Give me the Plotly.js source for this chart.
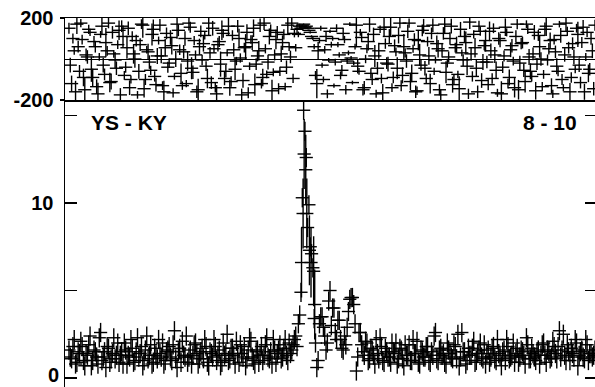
<!DOCTYPE html>
<html>
<head>
<meta charset="utf-8">
<script src="https://cdn.plot.ly/plotly-3.0.1.min.js"></script>
<style>html,body{margin:0;padding:0;background:#fff;}#chart{width:595px;height:387px;}</style>
</head>
<body>
<div id="chart"></div>
<script>
// Fringe amplitude vs lag (bottom) and fringe phase (top), baseline YS - KY, channels 8 - 10
const baselineLabel = "YS - KY";
const channelLabel = "8 - 10";

// series A: lags 0,1,2,...
const amplitudeA = [
  1.6, 1.1, 2.2, 0.9, 1.4, 1.8, 0.7, 1.3, 2.4, 1.0, 1.5, 0.8, 2.6, 1.2, 0.6, 1.7, 1.1, 2.3, 1.3, 0.9,
  1.5, 2.0, 0.8, 1.2, 1.7, 1.0, 2.3, 1.4, 0.7, 1.6, 1.1, 1.9, 0.9, 1.3, 2.2, 1.2, 0.8, 1.5, 1.8, 1.0,
  2.7, 0.6, 1.7, 2.1, 1.2, 0.9, 1.6, 1.3, 2.0, 0.8, 1.5, 1.1, 1.8, 0.7, 1.4, 2.2, 1.0, 1.6, 0.9, 1.3,
  2.5, 1.1, 1.7, 0.8, 1.4, 1.9, 1.2, 0.7, 1.6, 2.1, 1.0, 1.5, 0.9, 1.8, 1.3, 2.3, 1.1, 0.8, 1.6, 1.4,
  1.9, 1.2, 2.2, 1.0, 1.4, 1.9, 2.4, 3.1, 4.9, 15.3, 12.6, 9.9, 7.1, 3.4, 0.6, 3.1, 3.5, 2.4, 2.0, 5.0,
  4.0, 2.6, 3.3, 2.2, 1.6, 1.9, 3.8, 4.6, 4.2, 0.4, 2.6, 1.9, 1.3, 2.0, 1.1, 1.6, 0.8, 1.4, 2.3, 1.0,
  1.7, 1.2, 0.9, 1.5, 2.0, 1.1, 1.6, 0.7, 1.3, 1.9, 1.0, 1.4, 2.1, 0.8, 1.5, 1.2, 1.8, 0.9, 1.3, 2.6,
  1.0, 1.7, 1.4, 0.8, 1.6, 1.2, 1.9, 1.1, 0.7, 2.6, 1.5, 1.0, 1.3, 1.7, 0.9, 1.4, 2.0, 1.1, 0.8, 1.6,
  1.2, 1.8, 1.0, 1.4, 0.7, 1.6, 2.2, 1.1, 1.3, 0.9, 1.7, 1.2, 1.5, 0.8, 1.9, 1.1, 1.4, 1.0, 1.6, 1.3,
  2.0, 0.9, 1.5, 1.2, 1.8, 1.1, 2.7, 1.6, 1.3, 1.9, 1.0, 1.4, 2.2, 0.7, 1.5, 1.2, 2.2, 1.0, 1.4, 1.3
];
const phaseA = [
  150, -120, 40, 170, -60, 95, -150, 10, 130, -90, 60, -170, 120, -30, 80, 175, -110, 25, -45, 140,
  160, -80, 55, -140, 110, 0, -175, 70, 165, -100, 35, -55, 145, -125, 90, 15, -160, 125, -20, 65,
  -85, 170, 45, -130, 100, -10, 155, -65, 20, -150, 135, 75, -35, 175, -115, 50, -170, 85, 140, -95,
  30, -140, 115, -50, 160, 5, -105, 60, -165, 95, 150, -25, 40, -120, 175, -75, 110, -155, 20, 130,
  -60, 80, -135, 165, 10, -95, 55, 120, 150, 170, 160, 140, 110, 60, -120, 90, -30, 45, -170, 135,
  100, -15, 70, -80, 125, -150, 30, 5, -20, 165, -60, 105, -140, 50, 170, -100, 15, -45, 145, -165,
  75, -25, 155, -90, 35, 115, -130, 60, -10, 175, -70, 95, -155, 20, 140, -45, 85, -120, 165, -5,
  50, -175, 125, -65, 10, 160, -100, 70, -145, 30, 110, -35, 180, -85, 55, -160, 135, -15, 90, -125,
  40, 150, -55, 100, -170, 15, 130, -90, 65, -140, 170, -20, 80, -110, 145, -60, 25, -155, 115, 0,
  -75, 160, 50, -130, 95, -35, 170, -100, 20, 135, -160, 75, -50, 120, -115, 155, 10, -70, 100, -145
];

// series B: lags 0.5,1.5,2.5,...
const amplitudeB = [
  1.2, 1.8, 0.8, 1.5, 2.1, 1.0, 1.4, 1.9, 0.7, 1.6, 1.2, 2.3, 1.0, 1.5, 1.8, 0.9, 1.4, 1.1, 2.0, 1.3,
  0.8, 1.6, 1.3, 2.2, 0.9, 1.5, 1.2, 1.8, 1.0, 2.4, 1.3, 0.8, 1.7, 1.1, 1.4, 2.0, 1.0, 1.6, 1.2, 1.9,
  1.1, 1.5, 0.9, 1.3, 2.4, 1.2, 0.8, 1.9, 1.4, 1.1, 1.7, 2.2, 0.9, 1.5, 1.2, 1.8, 1.3, 0.7, 2.0, 1.4,
  1.0, 1.7, 1.3, 2.1, 0.9, 1.4, 1.8, 1.1, 2.3, 1.2, 0.8, 1.6, 1.3, 1.0, 1.9, 1.2, 1.5, 2.2, 0.9, 1.6,
  1.1, 1.7, 1.3, 2.0, 1.6, 2.2, 1.8, 3.6, 10.3, 14.1, 8.6, 7.5, 6.3, 2.0, 1.0, 3.5, 2.9, 1.6, 4.4, 3.0,
  4.0, 2.2, 3.3, 1.7, 2.4, 2.9, 4.5, 4.6, 3.1, 1.2, 2.6, 1.5, 2.1, 1.0, 1.7, 1.3, 2.2, 1.1, 1.8, 0.9,
  1.5, 1.2, 2.0, 1.4, 0.8, 1.7, 1.1, 1.9, 1.3, 1.0, 2.2, 1.4, 0.9, 1.6, 1.2, 1.8, 1.0, 1.5, 2.4, 1.1,
  1.6, 1.3, 0.9, 2.0, 1.4, 1.1, 1.8, 2.5, 1.2, 1.5, 0.8, 1.7, 1.3, 2.1, 1.0, 1.6, 1.2, 1.9, 1.4, 0.9,
  1.7, 1.1, 2.2, 1.3, 1.5, 1.0, 1.8, 1.2, 2.0, 1.4, 0.9, 1.6, 1.3, 2.3, 1.1, 1.7, 1.2, 1.5, 0.8, 1.9,
  1.3, 1.6, 1.1, 2.1, 1.4, 1.8, 1.2, 2.5, 1.0, 1.5, 1.7, 1.2, 2.0, 1.3, 1.6, 1.1, 1.9, 1.4, 1.2, 1.6
];
const phaseB = [
  -30, 100, -160, 60, 175, -90, 20, 145, -50, 85, -135, 10, 160, -75, 40, -115, 130, -5, 70, -175,
  110, -40, 150, -100, 25, 90, -60, 170, -145, 45, -15, 120, -85, 15, 165, -130, 55, -40, 105, -165,
  0, 140, -70, 35, -120, 175, -45, 90, -160, 60, -5, 115, -95, 30, 150, -140, 70, -25, 125, -60,
  160, -110, 45, -10, 100, -175, 55, 130, -35, 80, -125, 15, 165, -90, 50, -15, 140, -65, 95, -145,
  25, 120, -40, 60, 175, 125, 145, 160, 165, 155, 150, 130, 100, -80, 40, 150, -100, 110, -5, 70,
  -130, 150, 20, -55, 95, -10, 170, -115, 60, -35, 130, -150, 0, 85, -70, 120, -170, 40, -95, 155,
  -20, 110, -140, 65, -45, 175, -80, 30, 135, -110, 50, -160, 90, -30, 160, -95, 15, 125, -60, 75,
  -150, 40, 170, -20, 100, -125, 55, -75, 145, -5, 80, -170, 25, 120, -45, 160, -105, 65, -15, 135,
  -95, 20, -165, 90, -40, 155, -120, 45, -10, 110, -150, 75, -55, 170, 10, -85, 130, -25, 60, -135,
  145, -5, 90, -170, 35, -60, 115, -140, 175, 55, -90, 10, 150, -30, 80, -160, 130, -50, 40, 165
];

// extra finely sampled points across the fringe peak
const peakLag = [88.2, 88.8, 89.2, 89.8, 90.2, 91.2, 91.8, 92.8, 93.2];
const peakAmp = [6.6, 9.4, 12.8, 11.9, 9.4, 7.3, 6.6, 6.1, 4.2];

// amplitude axis ticks
const ampTicks = [0, 5, 10, 15];
const ampTickText = ["", "", "10", ""];
const zeroLabel = "0";
const phaseTicks = [-200, 200];
const phaseTickText = ["-200", "200"];

const lagA = amplitudeA.map((_, i) => i);
const lagB = amplitudeB.map((_, i) => i + 0.5);
const AMP_ERR = 0.55;
const PEAK_ERR = 2.0;
const LAG_ERR = 2.5;
// phase error (deg) derived from amplitude signal-to-noise
const phaseErrA = amplitudeA.map(a => Math.min(180, 57.3 * 0.75 / a));
const phaseErrB = amplitudeB.map(a => Math.min(180, 57.3 * 0.75 / a));

const fam = "Liberation Sans, Arial, sans-serif";
const errStyle = {thickness: 1.4, width: 0, color: "#000"};
const err = (o) => Object.assign({visible: true}, o, errStyle);

function crossTrace(x, y, xa, ya, ey) {
  return {
    x: x, y: y, xaxis: xa, yaxis: ya, type: "scatter", mode: "markers",
    marker: {size: 1, color: "#000"},
    error_y: err(ey),
    error_x: err({type: "constant", value: LAG_ERR}),
    hoverinfo: "skip"
  };
}

const traces = [
  crossTrace(lagA, amplitudeA, "x", "y", {type: "constant", value: AMP_ERR}),
  crossTrace(lagB, amplitudeB, "x", "y", {type: "constant", value: AMP_ERR}),
  crossTrace(peakLag, peakAmp, "x", "y", {type: "constant", value: PEAK_ERR}),
  crossTrace(lagA, phaseA, "x2", "y2", {type: "data", array: phaseErrA}),
  crossTrace(lagB, phaseB, "x2", "y2", {type: "data", array: phaseErrB}),
  { x: [], y: [], xaxis: "x", yaxis: "y3", type: "scatter", mode: "markers", hoverinfo: "skip" }
];

const xr = [-1.5, 199.5];
const split = 287 / 369;
const tickFont = {family: fam, size: 20, color: "#000", weight: "bold"};

const layout = {
  width: 595, height: 387,
  margin: {l: 65, r: 0, t: 18, b: 0, pad: 0},
  paper_bgcolor: "#fff", plot_bgcolor: "#fff",
  showlegend: false,
  font: {family: fam, size: 20, color: "#000"},
  xaxis: {
    domain: [0, 1], range: xr, anchor: "y",
    showgrid: false, zeroline: false, showline: false, showticklabels: false, ticks: ""
  },
  yaxis: {
    domain: [0, split], range: [-0.514, 15.886], anchor: "x",
    showgrid: false, zeroline: false,
    showline: true, linecolor: "#000", linewidth: 1.5,
    ticks: "inside", ticklen: 12, tickwidth: 1.5, tickcolor: "#000",
    tickmode: "array", tickvals: ampTicks, ticktext: ampTickText,
    tickfont: tickFont, ticklabelstandoff: 6, ticklabeloverflow: "allow"
  },
  yaxis3: {
    overlaying: "y", side: "right", anchor: "x", range: [-0.514, 15.886],
    showgrid: false, zeroline: false, showline: false, showticklabels: false,
    ticks: "inside", ticklen: 10, tickwidth: 1.5, tickcolor: "#000",
    tickmode: "array", tickvals: ampTicks
  },
  xaxis2: {
    domain: [0, 1], range: xr, anchor: "y2", matches: "x",
    showgrid: false, zeroline: false, showticklabels: false, ticks: "",
    showline: true, mirror: true, linecolor: "#000", linewidth: 1.5
  },
  yaxis2: {
    domain: [split, 1], range: [-200, 200], anchor: "x2",
    showgrid: false,
    zeroline: true, zerolinecolor: "#000", zerolinewidth: 1,
    showline: true, linecolor: "#000", linewidth: 1.5,
    ticks: "outside", ticklen: 4, tickwidth: 1.5, tickcolor: "#000",
    tickmode: "array", tickvals: phaseTicks, ticktext: phaseTickText,
    tickfont: tickFont, ticklabelstandoff: 2, ticklabeloverflow: "allow"
  },
  annotations: [
    {text: "<b>" + baselineLabel + "</b>", xref: "paper", yref: "paper", x: 0.045, y: 0.718,
     xanchor: "left", yanchor: "middle", showarrow: false, font: {family: fam, size: 21, color: "#000"}},
    {text: "<b>" + channelLabel + "</b>", xref: "paper", yref: "paper", x: 0.97, y: 0.718,
     xanchor: "right", yanchor: "middle", showarrow: false, font: {family: fam, size: 21, color: "#000"}},
    {text: "<b>" + zeroLabel + "</b>", xref: "paper", yref: "paper", x: 0, y: 0,
     xanchor: "right", yanchor: "bottom", xshift: -5, yshift: 0, showarrow: false,
     font: {family: fam, size: 20, color: "#000"}, borderpad: 0}
  ]
};

Plotly.newPlot("chart", traces, layout, {staticPlot: true, displayModeBar: false});
</script>
</body>
</html>
